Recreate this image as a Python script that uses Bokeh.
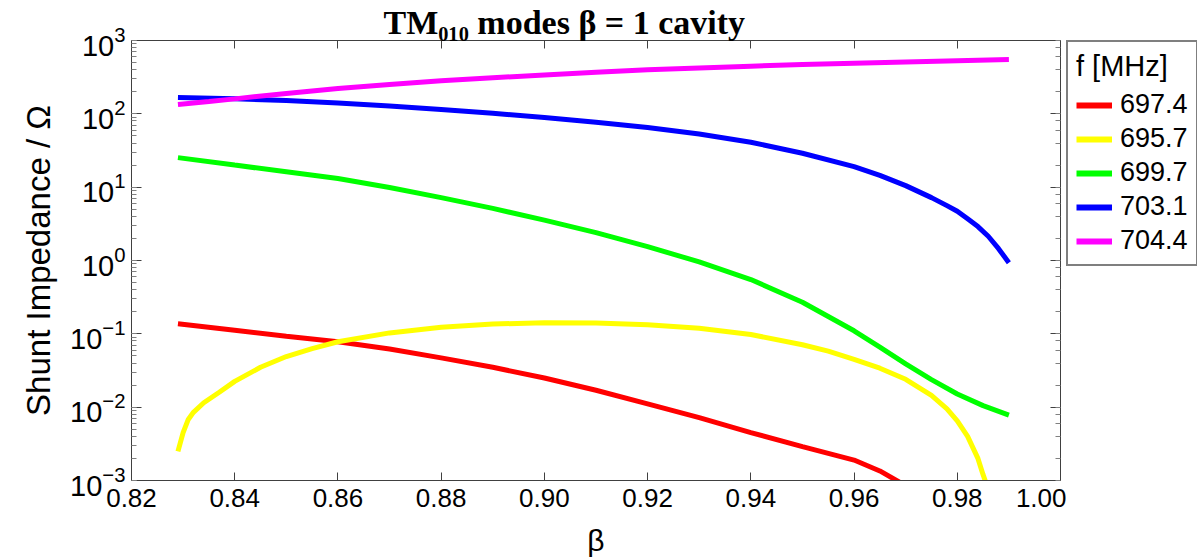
from bokeh.plotting import figure
from bokeh.layouts import row
from bokeh.models import (LinearAxis, LogAxis, FixedTicker, NumeralTickFormatter,
                          Legend, LegendItem, Range1d)
from bokeh.embed import file_html
from bokeh.resources import INLINE
import numpy as np

# Shunt impedance (Ohm) of the TM010 passband modes versus particle beta
beta_697 = [0.829, 0.84, 0.85, 0.86, 0.87, 0.88, 0.89, 0.90, 0.91, 0.92, 0.93,
            0.94, 0.95, 0.96, 0.965, 0.97]
r_697 = [0.137, 0.112, 0.093, 0.078, 0.062, 0.047, 0.035, 0.025, 0.017, 0.0111,
         0.0072, 0.0045, 0.0029, 0.0019, 0.00135, 0.00085]

beta_695 = [0.829, 0.830, 0.831, 0.832, 0.834, 0.837, 0.84, 0.845, 0.85, 0.855,
            0.86, 0.87, 0.88, 0.89, 0.90, 0.91, 0.92, 0.93, 0.94, 0.95, 0.955,
            0.96, 0.965, 0.97, 0.975, 0.978, 0.98, 0.982, 0.984, 0.985, 0.9865]
r_695 = [0.0025, 0.0045, 0.0068, 0.0085, 0.0115, 0.016, 0.0225, 0.035, 0.049, 0.063,
         0.078, 0.103, 0.123, 0.136, 0.142, 0.141, 0.133, 0.119, 0.098, 0.071, 0.058,
         0.045, 0.034, 0.024, 0.0145, 0.0095, 0.0065, 0.0040, 0.0020, 0.0012, 0.0006]

beta_699 = [0.829, 0.84, 0.85, 0.86, 0.87, 0.88, 0.89, 0.90, 0.91, 0.92, 0.93,
            0.94, 0.95, 0.96, 0.965, 0.97, 0.975, 0.98, 0.985, 0.99]
r_699 = [25.3, 20.0, 16.2, 13.1, 9.9, 7.2, 5.13, 3.55, 2.40, 1.55, 0.955,
         0.55, 0.27, 0.11, 0.066, 0.039, 0.0237, 0.0151, 0.0105, 0.0078]

beta_703 = [0.829, 0.84, 0.85, 0.86, 0.87, 0.88, 0.89, 0.90, 0.91, 0.92, 0.93,
            0.94, 0.95, 0.96, 0.965, 0.97, 0.975, 0.978, 0.98, 0.982, 0.984,
            0.986, 0.988, 0.99]
r_703 = [167, 160, 152, 140, 128, 115, 102, 89, 77, 65, 53,
         41, 29, 19.1, 14.5, 10.5, 7.2, 5.6, 4.7, 3.7, 2.9,
         2.14, 1.45, 0.93]

beta_704 = [0.829, 0.835, 0.84, 0.85, 0.86, 0.87, 0.88, 0.89, 0.90, 0.91, 0.92,
            0.93, 0.94, 0.95, 0.96, 0.97, 0.98, 0.99]
r_704 = [134, 147, 160, 190, 221, 252, 282, 311, 339, 368, 398,
         423, 447, 469, 490, 511, 531, 550]

freq_labels = ["697.4", "695.7", "699.7", "703.1", "704.4"]
colors = ["#ff0000", "#ffff00", "#00ff00", "#0000ff", "#ff00ff"]
x_ticks = [0.82, 0.84, 0.86, 0.88, 0.90, 0.92, 0.94, 0.96, 0.98, 1.00]

series = [(beta_697, r_697), (beta_695, r_695), (beta_699, r_699),
          (beta_703, r_703), (beta_704, r_704)]

SANS = "'Liberation Sans', Arial, sans-serif"
AX = "#404040"

p = figure(width=1066, height=559, output_backend="svg", toolbar_location=None,
           y_axis_type="log", x_range=Range1d(0.82, 1.00), y_range=Range1d(1e-3, 1e3),
           min_border_left=131, min_border_right=6, min_border_top=40,
           min_border_bottom=79)

p.title.text = "TM\u2080\u2081\u2080 modes \u03b2 = 1 cavity"
p.title.text_font = "'Liberation Serif', 'Times New Roman', serif"
p.title.text_font_style = "bold"
p.title.text_font_size = "34px"
p.title.text_color = "black"
p.title.align = "left"
p.title.offset = 252
p.title.standoff = 0

p.grid.visible = False
p.background_fill_color = "white"
p.border_fill_color = "white"
p.outline_line_color = AX
p.outline_line_width = 1

# bottom axis
xa = p.xaxis[0]
xa.ticker = FixedTicker(ticks=x_ticks)
xa.formatter = NumeralTickFormatter(format="0.00")
xa.axis_label = "\u03b2"
xa.axis_label_text_font = SANS
xa.axis_label_text_font_size = "30px"
xa.axis_label_text_font_style = "normal"
xa.axis_label_text_color = "black"
xa.axis_label_standoff = 14
xa.major_label_text_font = SANS
xa.major_label_text_font_size = "26px"
xa.major_label_text_color = "black"
xa.major_label_standoff = 8
xa.major_tick_in = 8
xa.major_tick_out = 0
xa.minor_tick_line_color = None
xa.axis_line_color = AX
xa.major_tick_line_color = AX

# left axis
ya = p.yaxis[0]
ya.axis_label = "Shunt Impedance / \u03a9"
ya.axis_label_text_font = SANS
ya.axis_label_text_font_size = "33px"
ya.axis_label_text_font_style = "normal"
ya.axis_label_text_color = "black"
ya.axis_label_standoff = 10
ya.major_label_text_font = SANS
ya.major_label_text_font_size = "29px"
ya.major_label_text_color = "black"
ya.major_label_standoff = 6
ya.major_tick_in = 10
ya.major_tick_out = 0
ya.minor_tick_in = 5
ya.minor_tick_out = 0
ya.axis_line_color = AX
ya.major_tick_line_color = AX
ya.minor_tick_line_color = "#808080"

# mirrored top and right axes carrying ticks only
top = LinearAxis(ticker=FixedTicker(ticks=x_ticks), major_tick_in=8, major_tick_out=0,
                 minor_tick_line_color=None, major_label_text_font_size="1px",
                 major_label_text_color=None, major_label_standoff=0,
                 axis_line_color=AX, major_tick_line_color=AX)
p.add_layout(top, "above")
right = LogAxis(major_tick_in=10, major_tick_out=0, minor_tick_in=5, minor_tick_out=0,
                major_label_text_font_size="1px", major_label_text_color=None,
                major_label_standoff=0, axis_line_color=AX, major_tick_line_color=AX,
                minor_tick_line_color="#808080")
p.add_layout(right, "right")

for (b, r), c in zip(series, colors):
    p.line(np.array(b), np.array(r), line_color=c, line_width=5)

# narrow side figure holding the frequency key; its lines carry no visible data,
# they only supply the swatches
key = figure(width=131, height=559, output_backend="svg", toolbar_location=None,
             x_axis_location=None, y_axis_location=None,
             x_range=Range1d(0, 1), y_range=Range1d(0, 1),
             min_border_left=0, min_border_right=0, min_border_top=40,
             min_border_bottom=0)
key.grid.visible = False
key.outline_line_color = None
key.background_fill_color = "white"
key.border_fill_color = "white"

items = []
for c, lab in zip(colors, freq_labels):
    rend = key.line(x=[np.nan], y=[np.nan], line_color=c, line_width=6)
    items.append(LegendItem(label=lab, renderers=[rend]))

legend = Legend(items=items, location="top_left", title="f [MHz]",
                title_text_font=SANS, title_text_font_size="29px",
                title_text_font_style="normal", title_text_color="black",
                title_standoff=6,
                label_text_font=SANS, label_text_font_size="27px",
                label_text_color="black", label_standoff=8,
                glyph_width=36, glyph_height=28, label_height=28, spacing=3,
                padding=8, margin=0, border_line_color="black",
                border_line_width=2, background_fill_alpha=1)
key.add_layout(legend, "center")

open("out.html", "w").write(file_html(row(p, key, spacing=0), INLINE))
